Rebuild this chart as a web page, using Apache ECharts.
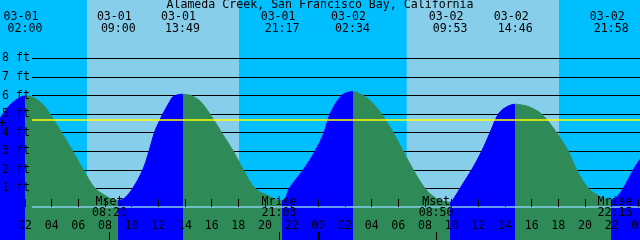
<!DOCTYPE html>
<html><head><meta charset="utf-8">
<script src="https://cdn.jsdelivr.net/npm/echarts@6/dist/echarts.min.js"></script>
<style>html,body{margin:0;padding:0;background:#00BFFF}#c{width:640px;height:240px}</style>
</head><body><div id="c"></div>
<script>
const titleText = 'Alameda Creek, San Francisco Bay, California';
// time in hours since 03-01 00:00
const viewStart = 0.125, viewEnd = 48.125;
const tideHours = [0.125,0.875,1.625,2.0,2.625,3.375,3.875,4.75,5.58,6.37,7.25,8.0,8.5,9.0,9.5,10.08,10.83,11.3,11.7,12.125,12.33,12.875,13.12,13.817,14.5,15.125,15.875,16.75,17.625,18.375,19.25,20.375,20.85,21.283,21.55,21.82,22.87,23.75,24.425,24.875,25.75,26.567,27.375,28.0,28.75,29.62,30.37,31.12,32.0,32.75,33.4,33.883,34.2,34.625,35.5,36.25,36.875,37.5,38.1,38.767,39.5,39.875,40.75,41.875,42.75,43.375,44.25,45.125,45.6,45.967,46.4,46.875,47.625,48.125];
const tideFeet  = [4.77,5.49,5.9,5.97,5.9,5.49,5.0,4.0,3.0,2.0,1.0,0.62,0.42,0.35,0.5,1.0,2.0,3.0,4.0,4.7,5.0,5.7,5.95,6.07,5.98,5.7,5.0,4.0,3.0,2.0,1.0,0.55,0.38,0.33,0.5,1.0,2.0,3.0,4.0,5.0,6.0,6.21,6.0,5.65,5.0,4.0,3.0,2.0,1.0,0.5,0.3,0.25,0.5,1.0,2.0,3.0,4.0,5.0,5.38,5.53,5.46,5.37,5.0,4.0,3.0,2.0,1.0,0.55,0.4,0.37,0.55,1.0,2.0,2.57];
const extremeHours  = [2.0, 9.0, 13.817, 21.283, 26.567, 33.883, 38.767, 45.967];
const extremeDates  = ['03-01','03-01','03-01','03-01','03-02','03-02','03-02','03-02'];
const extremeTimes  = ['02:00','09:00','13:49','21:17','02:34','09:53','14:46','21:58'];
const extremeIsHigh = [true, false, true, false, true, false, true, false];
const sunriseHours = [6.65, 30.63];
const sunsetHours  = [18.05, 42.05];
const moonHours  = [8.333, 21.05, 32.833, 46.25];
const moonNames  = ['Mset','Mrise','Mset','Mrise'];
const moonTimes  = ['08:20','21:03','08:50','22:15'];
const hourTicks = [0,2,4,6,8,10,12,14,16,18,20,22,24,26,28,30,32,34,36,38,40,42,44,46,48];
const midnightTicks = [24];
const levelFeet = [1,2,3,4,5,6,7,8];
const meanLevel = 4.67;
const datumLevel = 0;

const BLUE = '#0000FF', GREEN = '#2E8B57', NIGHT = '#00BFFF', DAY = '#87CEEB';
const FONT = 'DejaVu Sans Mono', FS = 11.6;

const tideData = tideHours.map((h, i) => [h, tideFeet[i]]);
const pieces = [{ lt: extremeHours[0], color: extremeIsHigh[0] ? BLUE : GREEN }];
for (let i = 0; i < extremeHours.length; i++) {
  const p = { gte: extremeHours[i], color: extremeIsHigh[i] ? GREEN : BLUE };
  if (i + 1 < extremeHours.length) p.lt = extremeHours[i + 1];
  pieces.push(p);
}
const dayAreas = sunriseHours.map((r, i) => [{ xAxis: r }, { xAxis: sunsetHours[i] }]);
const pad = n => (n < 10 ? '0' : '') + n;

const chart = echarts.init(document.getElementById('c'), null, { renderer: 'canvas' });
chart.setOption({
  animation: false,
  backgroundColor: NIGHT,
  grid: { left: 0, right: 0, top: 0, bottom: 0, containLabel: false, outerBoundsMode: 'none' },
  visualMap: { show: false, type: 'piecewise', dimension: 0, seriesIndex: 0, pieces: pieces },
  xAxis: [
    { type: 'value', position: 'bottom', min: viewStart, max: viewEnd, z: 10,
      axisLine: { show: false }, splitLine: { show: false },
      axisTick: { show: true, inside: true, length: 8, customValues: hourTicks, lineStyle: { color: '#000', width: 1 } },
      axisLabel: { show: true, inside: true, customValues: hourTicks, margin: 14, verticalAlign: 'middle',
        color: '#000', fontFamily: FONT, fontSize: FS, formatter: v => pad(Math.round(v) % 24) } },
    { type: 'value', position: 'bottom', min: viewStart, max: viewEnd, z: 10,
      axisLine: { show: false }, splitLine: { show: false },
      axisTick: { show: true, inside: true, length: 8, customValues: moonHours, lineStyle: { color: '#000', width: 1 } },
      axisLabel: { show: true, inside: true, customValues: moonHours, margin: 33, verticalAlign: 'middle', lineHeight: 11,
        color: '#000', fontFamily: FONT, fontSize: FS,
        formatter: v => { const i = moonHours.indexOf(v); return i < 0 ? '' : moonNames[i] + '\n' + moonTimes[i]; } } },
    { type: 'value', position: 'bottom', min: viewStart, max: viewEnd, z: 11,
      axisLine: { show: false }, splitLine: { show: false }, axisLabel: { show: false },
      axisTick: { show: true, inside: true, length: 8, customValues: midnightTicks, lineStyle: { color: '#000', width: 3 } } },
    { type: 'value', position: 'top', min: viewStart, max: viewEnd, z: 10,
      axisLine: { show: false }, splitLine: { show: false }, axisTick: { show: false },
      axisLabel: { show: true, inside: true, customValues: extremeHours, margin: 23.3, verticalAlign: 'middle',
        color: '#000', fontFamily: FONT, fontSize: FS,
        formatter: v => { const i = extremeHours.indexOf(v); return i < 0 ? '' : '{d|' + extremeDates[i] + '}\n{t|' + extremeTimes[i] + '}'; },
        rich: { d: { fontFamily: FONT, fontSize: FS, color: '#000', lineHeight: 12, padding: [0, 8, 0, 0] },
                t: { fontFamily: FONT, fontSize: FS, color: '#000', lineHeight: 12 } } } }
  ],
  yAxis: { type: 'value', min: -1.783, max: 11.148, z: 10,
    axisLine: { show: false }, axisTick: { show: false }, splitLine: { show: false },
    axisLabel: { show: true, inside: true, customValues: levelFeet, margin: 2, color: '#000',
      fontFamily: FONT, fontSize: FS, formatter: v => v + ' ft' } },
  graphic: [
    { type: 'text', x: 320, y: 5, z: 20,
      style: { text: titleText, align: 'center', verticalAlign: 'middle', fill: '#000', font: FS + 'px "' + FONT + '"' } },
    { type: 'text', x: 2.5, y: 124, z: 20,
      style: { text: '+', align: 'center', verticalAlign: 'middle', fill: '#000', font: FS + 'px "' + FONT + '"' } }
  ],
  series: [
    { type: 'line', z: 3, data: tideData, showSymbol: false, smooth: 0.35,
      lineStyle: { width: 1 }, areaStyle: { opacity: 1, origin: 'start' }, silent: true },
    { type: 'line', z: 1, data: [], silent: true,
      markArea: { z: 1, silent: true, itemStyle: { color: DAY, opacity: 1 }, label: { show: false }, data: dayAreas },
      markLine: { z: 2, silent: true, symbol: 'none', label: { show: false }, animation: false,
        lineStyle: { color: '#000', width: 1, type: 'solid' },
        data: levelFeet.map(f => [{ x: 32, yAxis: f }, { x: 640, yAxis: f }]) } },
    { type: 'line', z: 6, data: [], silent: true,
      markLine: { z: 6, silent: true, symbol: 'none', label: { show: false }, animation: false,
        data: [
          [{ x: 32, yAxis: meanLevel, lineStyle: { color: '#FFFF00', width: 1.5, type: 'solid' } }, { x: 640, yAxis: meanLevel }],
          [{ x: 32, yAxis: datumLevel, lineStyle: { color: DAY, width: 1.5, type: 'solid' } }, { x: 640, yAxis: datumLevel }]
        ] } }
  ]
});
</script></body></html>
